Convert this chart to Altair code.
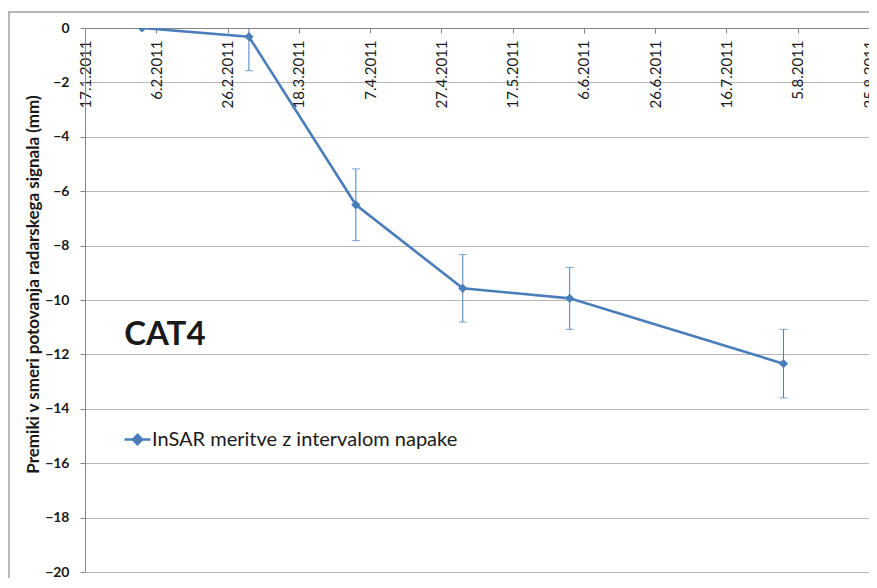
import altair as alt
import pandas as pd

# ---- data ----
dates = ["2011-02-02", "2011-03-04", "2011-04-03", "2011-05-03", "2011-06-02", "2011-08-01"]
values = [0.0, -0.32, -6.5, -9.57, -9.94, -12.34]
errors = [0.0, 1.25, 1.32, 1.24, 1.14, 1.26]
series_name = "InSAR meritve z intervalom napake"
tick_dates = ["2011-01-17", "2011-02-06", "2011-02-26", "2011-03-18", "2011-04-07",
              "2011-04-27", "2011-05-17", "2011-06-06", "2011-06-26", "2011-07-16",
              "2011-08-05", "2011-08-25"]
y_ticks = list(range(-20, 1, 2))
annotation = "CAT4"
annotation_date = "2011-01-28"
annotation_value = -11.3
y_title = "Premiki v smeri potovanja radarskega signala (mm)"

BLUE = "#4a7ebb"
FONT = "Lato"
W, H = 784, 544


def dt(s):
    y, m, d = (int(p) for p in s.split("-"))
    return alt.DateTime(year=y, month=m, date=d, utc=True)


df = pd.DataFrame({
    "date": dates,
    "value": values,
    "lo": [v - e for v, e in zip(values, errors)],
    "hi": [v + e for v, e in zip(values, errors)],
    "series": [series_name] * len(dates),
})
err_df = df[[e > 0 for e in errors]]

xscale = alt.Scale(type="utc", domain=[dt(tick_dates[0]), dt(tick_dates[-1])])
yscale = alt.Scale(domain=[-20, 0], nice=False)

x_axis = alt.Axis(
    orient="bottom", offset=-H, values=[dt(t) for t in tick_dates],
    labelExpr="utcFormat(datum.value, '%-d.%-m.%Y')",
    labelAngle=-90, labelAlign="right", labelBaseline="middle",
    labelFont=FONT, labelFontSize=15, labelColor="#1a1a1a", labelPadding=7,
    tickSize=5, tickColor="#868686", domainColor="#868686", domainWidth=1,
    grid=False, title=None, labelOverlap=False, labelBound=False, labelFlush=False,
)
y_axis = alt.Axis(
    values=y_ticks, grid=True, gridColor="#b7b7b7", gridWidth=1,
    domainColor="#868686", tickColor="#868686", tickSize=5,
    labelFont=FONT, labelFontWeight="bold", labelFontSize=14, labelColor="#1a1a1a",
    labelPadding=11, title=y_title, titleFont=FONT, titleFontSize=17,
    titleFontWeight="bold", titleColor="#1a1a1a", titleX=-43, titleY=256,
    titleAngle=-90, titleAlign="center", titleBaseline="bottom",
)

base = alt.Chart(df)

line = base.mark_line(strokeWidth=2.6, clip=True,
                      point=alt.OverlayMarkDef(shape="diamond", size=85, filled=True, opacity=1)).encode(
    x=alt.X("date:T", scale=xscale, axis=x_axis),
    y=alt.Y("value:Q", scale=yscale, axis=y_axis),
    color=alt.Color("series:N", scale=alt.Scale(range=[BLUE]),
                    legend=alt.Legend(
                        orient="none", legendX=38, legendY=397, title=None, padding=0,
                        symbolType="M-1,0H1M-0.36,0L0,-0.36L0.36,0L0,0.36Z",
                        symbolSize=676, symbolStrokeWidth=2.4, symbolFillColor=BLUE,
                        symbolStrokeColor=BLUE, labelFont=FONT, labelFontSize=20,
                        labelColor="#1a1a1a", labelOffset=0, labelLimit=600)),
)

err = alt.Chart(err_df).mark_rule(color=BLUE, strokeWidth=1, clip=True).encode(
    x=alt.X("date:T", scale=xscale), y=alt.Y("lo:Q", scale=yscale), y2="hi:Q")
cap_lo = alt.Chart(err_df).mark_tick(color=BLUE, thickness=1, size=8, orient="horizontal", clip=True).encode(
    x=alt.X("date:T", scale=xscale), y=alt.Y("lo:Q", scale=yscale))
cap_hi = alt.Chart(err_df).mark_tick(color=BLUE, thickness=1, size=8, orient="horizontal", clip=True).encode(
    x=alt.X("date:T", scale=xscale), y=alt.Y("hi:Q", scale=yscale))

label = alt.Chart(pd.DataFrame({"t": [annotation], "date": [annotation_date], "v": [annotation_value]})).mark_text(
    font=FONT, fontSize=33, fontWeight="bold", color="#1a1a1a", align="left", baseline="middle").encode(
    x=alt.X("date:T", scale=xscale), y=alt.Y("v:Q", scale=yscale), text="t:N")

border = alt.Chart(pd.DataFrame({"a": [0]})).mark_rule(color="#a0a0a0", strokeWidth=1.5).encode(
    x=alt.value(-77), x2=alt.value(W + 10), y=alt.value(-16))
border_l = alt.Chart(pd.DataFrame({"a": [0]})).mark_rule(color="#a0a0a0", strokeWidth=1.5).encode(
    x=alt.value(-76), y=alt.value(-16), y2=alt.value(H + 20))

chart = alt.layer(border, border_l, err, cap_lo, cap_hi, line, label).properties(
    width=W, height=H,
    autosize=alt.AutoSizeParams(type="none"),
    padding={"left": 77, "top": 20, "right": 0, "bottom": 6},
).configure_view(stroke=None).configure(background="white")

chart.save("out.html", embed_options={"renderer": "svg", "actions": False})
